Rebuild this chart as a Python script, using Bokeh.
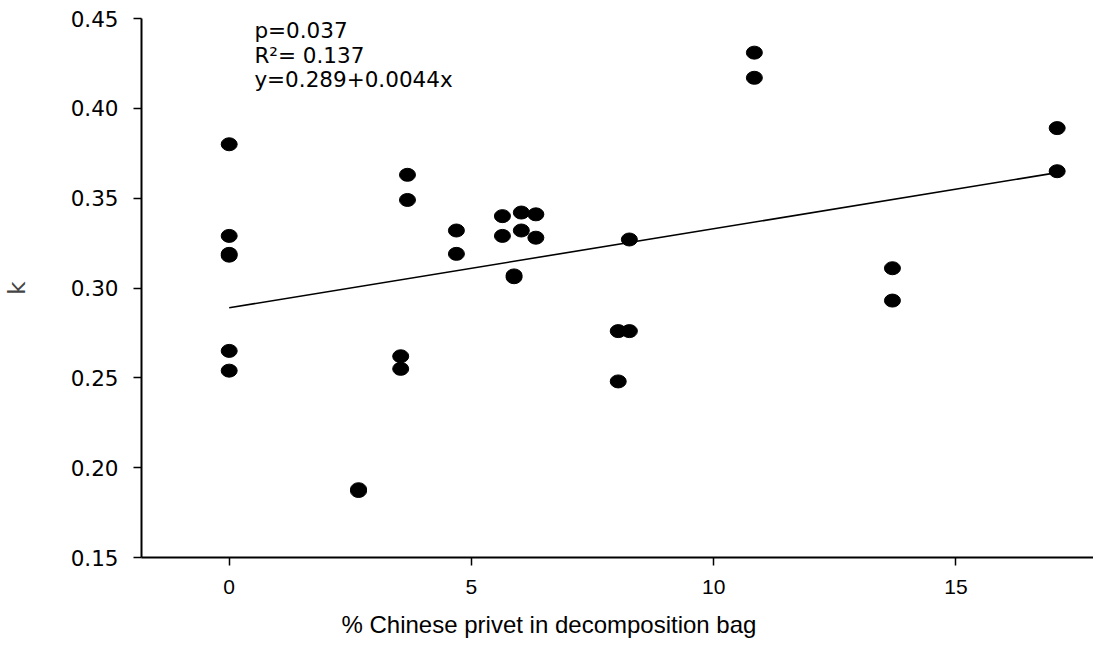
from bokeh.plotting import figure
from bokeh.models import Range1d, FixedTicker, Label, NumeralTickFormatter, Title
from bokeh.embed import file_html
from bokeh.resources import INLINE

# % Chinese privet in each decomposition bag and the decay constant k of that bag
privet_pct = [0, 0, 0, 0, 0, 0,
              2.67, 2.67, 3.54, 3.54, 3.68, 3.68, 4.69, 4.69,
              5.64, 5.64, 5.88, 5.88, 6.03, 6.03, 6.33, 6.33,
              8.03, 8.03, 8.26, 8.26, 10.84, 10.84, 13.69, 13.69,
              17.09, 17.09]
k_values = [0.380, 0.329, 0.319, 0.318, 0.265, 0.254,
            0.188, 0.187, 0.262, 0.255, 0.363, 0.349, 0.332, 0.319,
            0.340, 0.329, 0.307, 0.306, 0.342, 0.332, 0.341, 0.328,
            0.276, 0.248, 0.327, 0.276, 0.431, 0.417, 0.311, 0.293,
            0.389, 0.365]

# linear regression reported on the chart
fit_intercept = 0.289
fit_slope = 0.0044
fit_p = "0.037"
fit_r2 = "0.137"

x_ticks = [0, 5, 10, 15]
y_ticks = [0.15, 0.20, 0.25, 0.30, 0.35, 0.40, 0.45]

p = figure(width=1093, height=650, output_backend="svg", toolbar_location=None,
           x_range=Range1d(-1.81, 17.84), y_range=Range1d(0.15, 0.45),
           min_border_left=140, min_border_right=0, min_border_top=18,
           min_border_bottom=93, background_fill_color="white",
           border_fill_color="white", outline_line_color=None)
p.xgrid.visible = False
p.ygrid.visible = False

for ax in (p.xaxis[0], p.yaxis[0]):
    ax.axis_line_color = "black"
    ax.axis_line_width = 2
    ax.major_tick_line_color = "black"
    ax.major_tick_line_width = 1.5
    ax.major_tick_in = 0
    ax.major_tick_out = 8
    ax.minor_tick_line_color = None
    ax.major_label_text_color = "black"

p.xaxis.ticker = FixedTicker(ticks=x_ticks)
p.yaxis.ticker = FixedTicker(ticks=y_ticks)
p.yaxis.formatter = NumeralTickFormatter(format="0.00")

p.yaxis.major_label_text_font = "DejaVu Sans"
p.yaxis.major_label_text_font_size = "21.5px"
p.yaxis.major_label_standoff = 15
p.yaxis.axis_label = "k"
p.yaxis.axis_label_text_font = "DejaVu Sans"
p.yaxis.axis_label_text_font_style = "normal"
p.yaxis.axis_label_text_font_size = "23px"
p.yaxis.axis_label_standoff = 38

p.xaxis.major_label_text_font = "Liberation Sans"
p.xaxis.major_label_text_font_size = "21px"
p.xaxis.major_label_standoff = 14

# x-axis title, starting a fixed distance in from the left of the frame
p.add_layout(Title(text="% Chinese privet in decomposition bag",
                   align="left", offset=200, standoff=25,
                   text_font="Liberation Sans", text_font_size="24px",
                   text_font_style="normal", text_color="black"), "below")

# regression line over the sampled range
fit_x = [0, max(privet_pct)]
fit_y = [fit_intercept + fit_slope * v for v in fit_x]
p.line(fit_x, fit_y, line_color="black", line_width=1.6)

p.ellipse(x=privet_pct, y=k_values, width=16, height=13,
          width_units="screen", height_units="screen",
          fill_color="black", line_color="black")

stats = [f"p={fit_p}",
         f"R\u00b2= {fit_r2}",
         f"y={fit_intercept}+{fit_slope}x"]
for i, t in enumerate(stats):
    p.add_layout(Label(x=0.52, y=0.45, y_offset=-12 - 24.5 * i, text=t,
                       text_font="DejaVu Sans", text_font_size="21.5px",
                       text_color="black", text_baseline="alphabetic",
                       text_align="left"))

open("out.html", "w").write(file_html(p, INLINE))
